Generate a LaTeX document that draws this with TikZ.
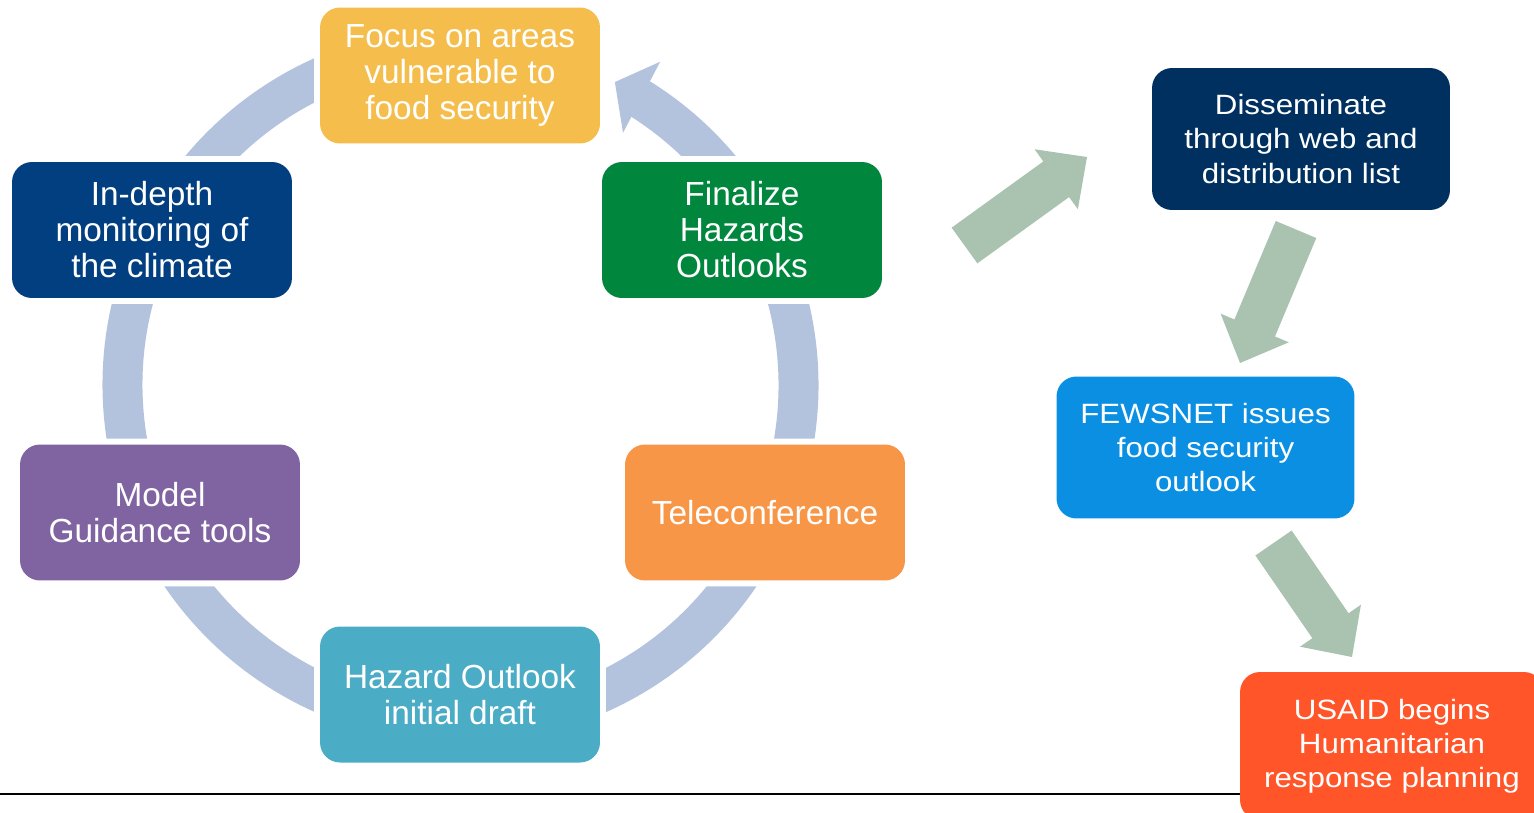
\documentclass[tikz,border=0pt]{standalone}
\usepackage{fontspec}
\setmainfont{Liberation Sans}
\newfontfamily\widesans[FakeStretch=1.12]{Liberation Sans}
\usetikzlibrary{arrows.meta,positioning,calc}
\definecolor{Amber}{HTML}{F5BE4C}
\definecolor{Navy}{HTML}{023F80}
\definecolor{Leaf}{HTML}{00873D}
\definecolor{Plum}{HTML}{8064A2}
\definecolor{Tangerine}{HTML}{F79646}
\definecolor{Aqua}{HTML}{4BACC6}
\definecolor{Ink}{HTML}{00305F}
\definecolor{Sky}{HTML}{0A8FE2}
\definecolor{Flame}{HTML}{FF5529}
\definecolor{Ring}{HTML}{B3C3DE}
\definecolor{Sage}{HTML}{A9C3B0}

\begin{document}
\begin{tikzpicture}[x=0.02cm,y=-0.02cm,
    stage/.style={rounded corners=0.4cm,minimum width=5.6cm,minimum height=2.72cm,inner sep=0pt,align=center,text=white,
      font=\fontsize{19}{20.5}\selectfont,preaction={draw=white,line width=0.24cm}},
    outcome/.style={rounded corners=0.4cm,minimum width=5.96cm,minimum height=2.84cm,inner sep=0pt,align=center,text=white,
      font=\widesans\fontsize{15.9}{19.4}\selectfont},
    ring/.style={draw=Ring,line width=0.8cm}]
  \clip (0,0) rectangle (1534,812);
  % the cycle ring runs behind the stages
  \begin{scope}[shift={(460.5,385)}]
    \draw[ring] (-58.1:338) arc[start angle=-58.1,end angle=285,radius=338];
    \fill[Ring] (-57.2:300) -- (-58.3:380) -- (-63:340) -- cycle;
  \end{scope}
  % stages of the cycle
  \node[stage,fill=Amber] (focus) at (460,75.5) {Focus on areas\\vulnerable to\\food security};
  \node[stage,fill=Navy] (monitor) at (152,230) {In-depth\\monitoring of\\the climate};
  \node[stage,fill=Leaf] (finalize) at (742,230) {Finalize\\Hazards\\Outlooks};
  \node[stage,fill=Plum] (model) at (160,512.5) {Model\\Guidance tools};
  \node[stage,fill=Tangerine] (telecon) at (765,512.5) {Teleconference};
  \node[stage,fill=Aqua] (draft) at (460,694.5) {Hazard Outlook\\initial draft};
  % bottom rule
  \draw[line width=0.03cm] (0,794) -- (1250,794);
  % what follows the outlook
  \node[outcome,fill=Ink] (dissem) at (1301,139) {Disseminate\\through web and\\distribution list};
  \node[outcome,fill=Sky] (fews) at (1205.5,447.5) {FEWSNET issues\\food security\\outlook};
  \node[outcome,fill=Flame,minimum width=6.08cm,minimum height=2.96cm] (usaid) at (1392,746) {USAID begins\\Humanitarian\\response planning};
  \coordinate (p1) at (964.5,245.5); \coordinate (q1) at (1087,157);
  \coordinate (p2) at (1296,229.5);  \coordinate (q2) at (1240,363);
  \coordinate (p3) at (1273.5,543);  \coordinate (q3) at (1352,657);
  % block arrows: shaft 0.88cm wide, head 1.48cm wide and 0.76cm long
  \foreach \u/\v in {p1/q1,p2/q2,p3/q3}{
    \coordinate (b) at ($(\v)!0.76cm!(\u)$);
    \fill[Sage] ($(\u)!0.44cm!90:(\v)$) -- ($(b)!0.44cm!90:(\v)$) -- ($(b)!0.74cm!90:(\v)$) -- (\v)
      -- ($(b)!0.74cm!-90:(\v)$) -- ($(b)!0.44cm!-90:(\v)$) -- ($(\u)!0.44cm!-90:(\v)$) -- cycle;
  }
\end{tikzpicture}
\end{document}
